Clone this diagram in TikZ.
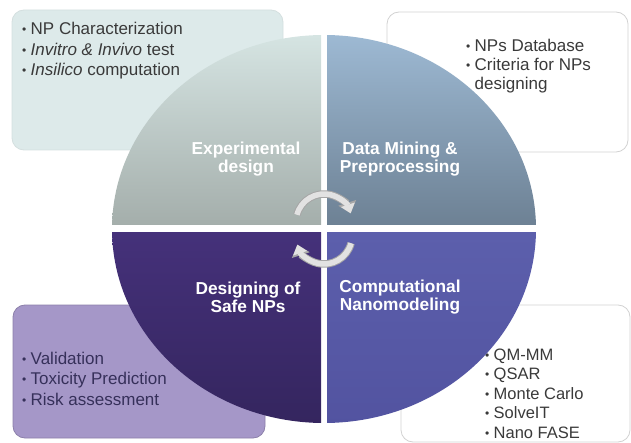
\documentclass[tikz,border=0pt]{standalone}
\usepackage{fontspec}
\setmainfont{Liberation Sans}
\usepackage{xcolor}
\definecolor{cExpTop}{HTML}{D6E5E3}
\definecolor{cExpBot}{HTML}{A4AEAB}
\definecolor{cMineTop}{HTML}{9EBAD4}
\definecolor{cMineBot}{HTML}{6D8194}
\definecolor{cSafeTop}{HTML}{45317A}
\definecolor{cSafeBot}{HTML}{34255E}
\definecolor{cCompTop}{HTML}{5C5FAC}
\definecolor{cCompBot}{HTML}{5253A0}
\definecolor{cBoxTeal}{HTML}{DDEAEA}
\definecolor{cBoxLav}{HTML}{A597C8}
\definecolor{cEdge}{HTML}{D2D2D2}
\definecolor{cText}{HTML}{3A3A3A}
\definecolor{cTextLav}{HTML}{36305A}
\definecolor{cArrow}{HTML}{E2E2E2}
\definecolor{cArrowEdge}{HTML}{A6A6A6}
\usepackage{tikz}
\usetikzlibrary{positioning,arrows.meta}
\tikzset{
  node-list/.style={anchor=base west,inner sep=0pt,
    font=\fontsize{17}{20.5}\selectfont,text=cText},
  node-label/.style={inner sep=0pt,align=center,text=white,
    font=\fontsize{17.3}{18}\selectfont\bfseries},
  box-note/.style={rounded corners=12pt,line width=0.8pt},
  arrow-cycle-edge/.style={line width=7.5pt,draw=cArrowEdge,
    -{Triangle[length=11pt,width=18pt]}},
  arrow-cycle/.style={line width=5.5pt,draw=cArrow,
    -{Triangle[length=9pt,width=14pt]}},
}
\newcommand{\bul}{\makebox[8.5pt][l]{\fontsize{12}{12}\selectfont\raisebox{1pt}{•}}}
\newcommand{\notelist}[1]{\parbox[t]{200pt}{\raggedright #1}}

\begin{document}
\begin{tikzpicture}[x=1pt,y=1pt]
  \useasboundingbox (0,0) rectangle (631,442);
  % side notes, behind the disc
  \draw[box-note,draw=cBoxTeal!90!gray,fill=cBoxTeal] (12,292) rectangle (283,432);
  \draw[box-note,draw=cEdge,fill=white] (387,290) rectangle (628,430);
  \draw[box-note,draw=cBoxLav!85!black,fill=cBoxLav] (13,4) rectangle (265,137);
  \draw[box-note,draw=cEdge,fill=white] (401,0) rectangle (630,137);
  \node[node-list] (exp-list) at (22,407)
    {\notelist{\bul NP Characterization\\ \bul\textit{Invitro \& Invivo} test\\ \bul\textit{Insilico} computation}};
  \node[node-list,text=cTextLav] (safe-list) at (22,78)
    {\notelist{\bul Validation\\ \bul Toxicity Prediction\\ \bul Risk assessment}};
  \node[node-list,font=\fontsize{16.5}{19.5}\selectfont] (comp-list) at (485,82)
    {\notelist{\bul QM-MM\\ \bul QSAR\\ \bul Monte Carlo\\ \bul SolveIT\\ \bul Nano FASE}};
  % the disc, four quadrants
  \coordinate (c) at (324,213);
  \begin{scope}
    \clip (c) ellipse[x radius=212,y radius=194];
    \shade[top color=cExpTop,bottom color=cExpBot] (110,217) rectangle (321,410);
    \shade[top color=cMineTop,bottom color=cMineBot] (327,217) rectangle (538,410);
    \shade[top color=cSafeTop,bottom color=cSafeBot] (110,15) rectangle (321,209);
    \shade[top color=cCompTop,bottom color=cCompBot] (327,15) rectangle (538,209);
  \end{scope}
  \node[node-list,font=\fontsize{17}{19}\selectfont] (mine-list) at (466,390)
    {\notelist{\bul NPs Database\\ \bul Criteria for NPs\\ \hspace*{8.5pt}designing}};
  \node[node-label] (exp) at (246,283) {Experimental\\design};
  \node[node-label] (mine) at (400,283) {Data Mining \&\\Preprocessing};
  \node[node-label] (safe) at (248,145) {Designing of\\Safe NPs};
  \node[node-label] (comp) at (400,145) {Computational\\Nanomodeling};
  % cycle arrows
  \coordinate (top-arc) at (324,220);
  \coordinate (bot-arc) at (324,206);
  \draw[arrow-cycle-edge] ([shift={(165:28)}]top-arc) arc[start angle=165,end angle=18,radius=28];
  \draw[arrow-cycle] ([shift={(165:28)}]top-arc) arc[start angle=165,end angle=18,radius=28];
  \draw[arrow-cycle-edge] ([shift={(-15:28)}]bot-arc) arc[start angle=-15,end angle=-162,radius=28];
  \draw[arrow-cycle] ([shift={(-15:28)}]bot-arc) arc[start angle=-15,end angle=-162,radius=28];
\end{tikzpicture}
\end{document}
